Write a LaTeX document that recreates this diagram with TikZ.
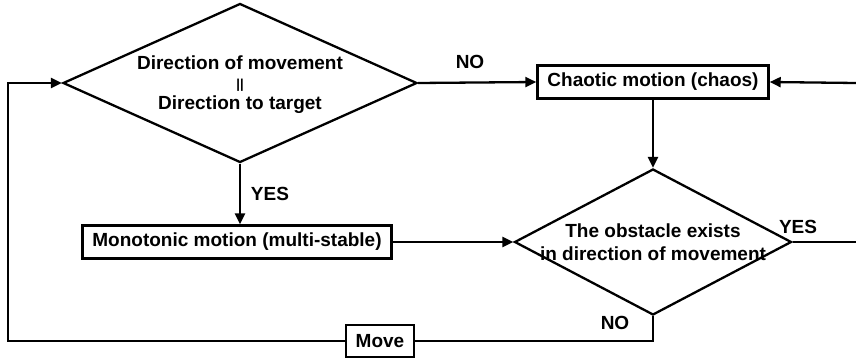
\documentclass[tikz,border=0pt]{standalone}
\usepackage{fontspec}
\setmainfont{Liberation Sans}
\usepackage{tikz}
\usetikzlibrary{arrows.meta,shapes.geometric}
\definecolor{primary}{RGB}{0,0,0}

\begin{document}
\begin{tikzpicture}[x=1pt,y=-1pt,line width=2.3pt,primary,
  txt/.style={font=\fontsize{19}{23}\selectfont\bfseries,inner sep=0pt},
  box/.style={draw,txt,inner xsep=10pt,minimum height=33pt},
  cond/.style={draw,diamond,inner sep=0pt},
  arr/.style={-{Triangle[length=11pt,width=10pt]}}]
\useasboundingbox (0,0) rectangle (856,361);
\node[cond,minimum width=354pt,minimum height=159pt] (d1) at (240,83) {};
\node[txt,align=center] (d1t) at (240,85) {Direction of movement\\[-4pt]{\fontsize{13}{13}\selectfont ||}\\[-2pt]Direction to target};
\node[box] (chaos) at (653,82) {Chaotic motion (chaos)};
\node[box] (mono) at (237,242) {Monotonic motion (multi-stable)};
\node[cond,minimum width=277pt,minimum height=146pt] (d2) at (653,242) {};
\node[txt,align=center] (d2t) at (653,242) {The obstacle exists\\in direction of movement};
\node[box,minimum height=32pt] (move) at (380,341) {Move};
\coordinate (back) at (8,83);
\coordinate (yesend) at (856,242);
\coordinate (chaosin) at (856,83);
\draw[arr] (d1.east) -- (chaos.west);
\node[txt] (no1) at (470,62) {NO};
\draw[arr] (d1.south) -- (d1.south |- mono.north);
\node[txt] (yes1) at (270,194) {YES};
\draw[arr] (chaos.south) -- (d2.north);
\draw[arr] (mono.east) -- (d2.west);
\draw (d2.east) -- (yesend);
\node[txt] (yes2) at (798,227) {YES};
\draw[arr] (chaosin) -- (chaos.east);
\draw (d2.south) |- (move.east);
\node[txt] (no2) at (615,323) {NO};
\draw[arr] (move.west) -| (back) -- (d1.west);
\end{tikzpicture}
\end{document}
